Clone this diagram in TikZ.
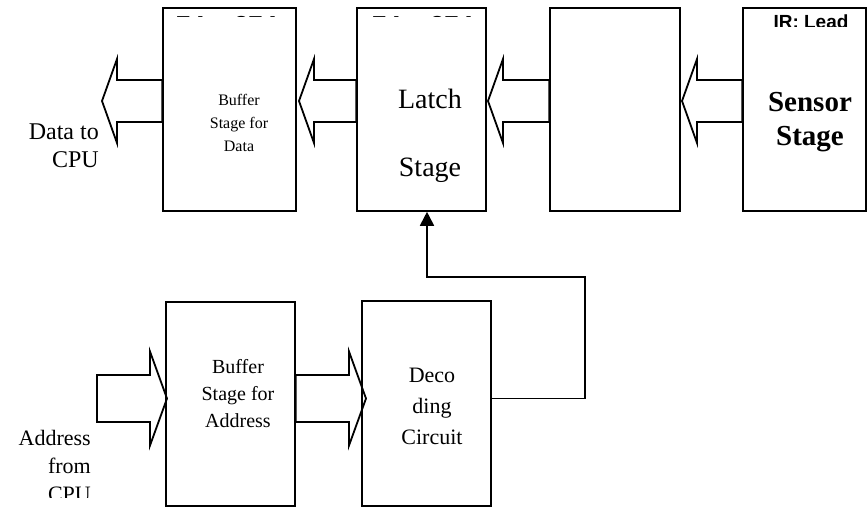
\documentclass[tikz,border=0pt]{standalone}
\usepackage{fontspec}
\setmainfont{Liberation Serif}
\newfontfamily\labelsans{Liberation Sans}
\usetikzlibrary{arrows.meta,calc}
\begin{document}
\begin{tikzpicture}[x=1pt,y=-1pt,
  stagebox/.style={draw,line width=1.6pt,rectangle,inner sep=0pt},
  blockarrow/.style={draw,line width=1.8pt,line join=miter},
  link/.style={draw,line width=1.8pt,-{Triangle[length=14pt,width=14pt]}},
  lbl/.style={inner sep=0pt,align=center},
  chiptag/.style={inner sep=0pt,anchor=base west,font=\labelsans\bfseries\fontsize{26}{26}\selectfont},
]
\fill[white] (0,0) rectangle (867,508);
\useasboundingbox (0,0) rectangle (867,508);

% stage boxes, upper row
\node[stagebox,minimum width=133pt,minimum height=203pt] (bufD)  at (229.5,109.5) {};
\node[stagebox,minimum width=129pt,minimum height=203pt] (latch) at (421.5,109.5) {};
\node[stagebox,minimum width=130pt,minimum height=203pt] (mid)   at (615,109.5) {};
\node[stagebox,minimum width=123pt,minimum height=203pt] (sense) at (804.5,109.5) {};

% stage boxes, lower row
\node[stagebox,minimum width=129pt,minimum height=204pt] (bufA)  at (230.5,404) {};
\node[stagebox,minimum width=129pt,minimum height=205pt] (dec)   at (426.5,403.5) {};

% tips of the hollow data arrows
\coordinate (t1) at (102,101);
\coordinate (t2) at (299,101);
\coordinate (t3) at (488,101);
\coordinate (t4) at (682,101);

% data path: sensor -> ... -> latch -> buffer -> CPU
\draw[blockarrow] (t1) -- ++(15,-42) -- ++(0,21) -- ($(t1 -| bufD.west)+(0,-21)$)
  -- ($(t1 -| bufD.west)+(0,21)$) -- ($(t1)+(15,21)$) -- ++(0,21) -- cycle;
\draw[blockarrow] (t2) -- ++(15,-42) -- ++(0,21) -- ($(t2 -| latch.west)+(0,-21)$)
  -- ($(t2 -| latch.west)+(0,21)$) -- ($(t2)+(15,21)$) -- ++(0,21) -- cycle;
\draw[blockarrow] (t3) -- ++(15,-42) -- ++(0,21) -- ($(t3 -| mid.west)+(0,-21)$)
  -- ($(t3 -| mid.west)+(0,21)$) -- ($(t3)+(15,21)$) -- ++(0,21) -- cycle;
\draw[blockarrow] (t4) -- ++(15,-42) -- ++(0,21) -- ($(t4 -| sense.west)+(0,-21)$)
  -- ($(t4 -| sense.west)+(0,21)$) -- ($(t4)+(15,21)$) -- ++(0,21) -- cycle;

% address path: CPU -> buffer -> decoder
\coordinate (addrIn) at (97,398.5);
\coordinate (t5) at (167,398.5);
\coordinate (t6) at (366,398.5);
\draw[blockarrow] (t5) -- ++(-17,-47) -- ++(0,23.5) -- ($(addrIn)+(0,-23.5)$)
  -- ($(addrIn)+(0,23.5)$) -- ($(t5)+(-17,23.5)$) -- ++(0,23.5) -- cycle;
\draw[blockarrow] (t6) -- ++(-17,-47) -- ++(0,23.5) -- ($(t6 -| bufA.east)+(0,-23.5)$)
  -- ($(t6 -| bufA.east)+(0,23.5)$) -- ($(t6)+(-17,23.5)$) -- ++(0,23.5) -- cycle;

% decoder output to the latch enable
\coordinate (j1) at (585,398.5);
\coordinate (j2) at (585,277);
\coordinate (j3) at (427,277);
\draw[link] (dec.east |- j1) -- (j1) -- (j2) -- (j3) -- (j3 |- latch.south);

% labels
\node[lbl,font=\fontsize{16}{23}\selectfont] (txtBufD) at (239,123) {Buffer\\Stage for\\Data};
\node[lbl,font=\fontsize{28}{68}\selectfont] (txtLatch) at (430,136) {Latch\\Stage};
\node[lbl,font=\bfseries\fontsize{29}{34}\selectfont] (txtSense) at (810,122) {Sensor\\Stage};
\node[lbl,align=right,anchor=east,font=\fontsize{24}{28}\selectfont] (txtOut) at (99,146) {Data to\\CPU};
\node[lbl,font=\fontsize{20}{27}\selectfont] (txtBufA) at (238,394) {Buffer\\Stage for\\Address};
\node[lbl,font=\fontsize{22}{31}\selectfont] (txtDec) at (432,406) {Deco\\ding\\Circuit};

\begin{scope}
  \clip (0,300) rectangle (160,497);
  \node[lbl,align=right,anchor=north east,font=\fontsize{22}{28}\selectfont] (txtIn) at (91,430) {Address\\from\\CPU};
\end{scope}

% part numbers, mostly hidden by their frames
\begin{scope}
  \clip (166,12.5) rectangle (294,17);
  \node[chiptag] (partD) at (176,34.5) {74ac374};
\end{scope}
\begin{scope}
  \clip (359,12.5) rectangle (484,17);
  \node[chiptag] (partL) at (372,34.5) {74ac374};
\end{scope}
\begin{scope}
  \clip (745,9.5) rectangle (864,26.5);
  \node[inner sep=0pt,anchor=base,font=\labelsans\bfseries\fontsize{19}{19}\selectfont] (partS) at (811,29) {IR: Lead};
\end{scope}
\end{tikzpicture}
\end{document}
